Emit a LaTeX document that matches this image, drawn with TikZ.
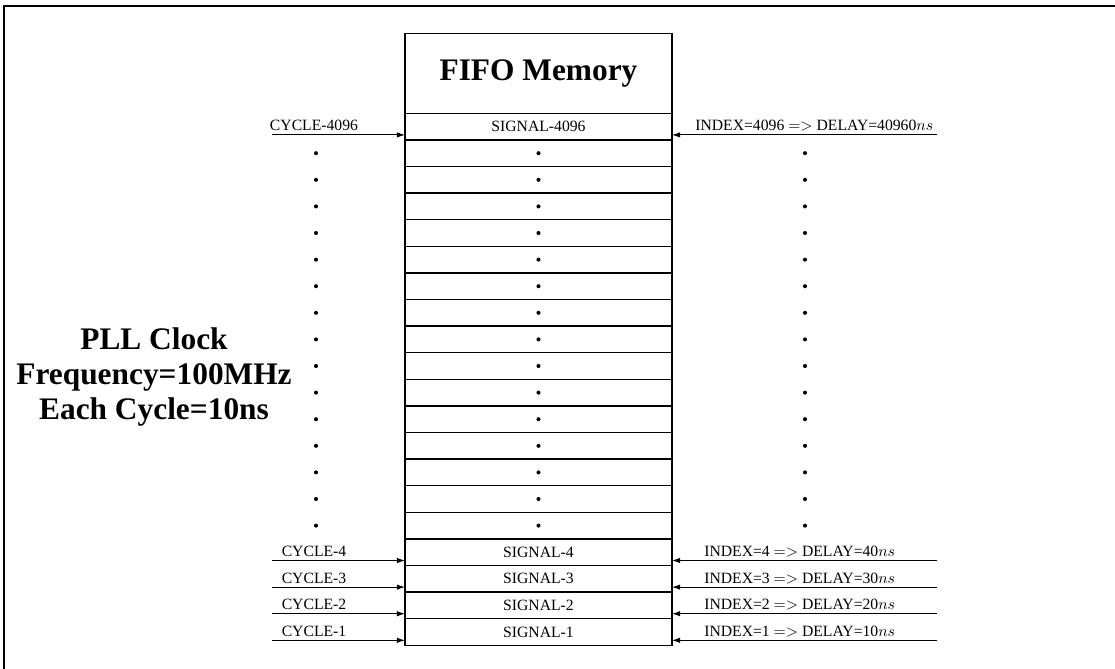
\documentclass[tikz,border=0pt]{standalone}
\usepackage{fontspec}
\setmainfont{Liberation Serif}
\usetikzlibrary{arrows.meta, positioning, calc}

\begin{document}
\begin{tikzpicture}[
    x=0.0224cm, y=-0.0224cm,
    cell/.style={draw, line width=0.9pt, minimum width=5.98cm, minimum height=0.596cm, inner sep=0pt, outer sep=0pt},
    titlebox/.style={cell, minimum height=1.792cm, font=\fontsize{20}{24}\selectfont\bfseries},
    arrow/.style={-{Latex[length=1.8mm, width=1.2mm]}, line width=0.6pt},
    lbl/.style={inner sep=0pt, anchor=base},
    big/.style={align=center, font=\fontsize{20}{22.5}\selectfont\bfseries}
]
\useasboundingbox (0,0) rectangle (1115,668);

% --- Frame ---
\draw[line width=0.9pt] (1120,6) -- (4,6) -- (4,675);

% --- FIFO memory column ---
\node[titlebox] (fifo) at (538.5, 73.3) {FIFO Memory};
\node[cell] (sig4096) at (538.5, 126.6) {SIGNAL-4096};
\foreach \i in {1,...,15}
  \node[cell] (row\i) at (538.5, {126.6+26.6*\i}) {};
\foreach \n/\i in {4/16, 3/17, 2/18, 1/19}
  \node[cell] (sig\n) at (538.5, {126.6+26.6*\i}) {SIGNAL-\n};

% --- Dots ---
\foreach \i in {1,...,15}
  \foreach \x in {316, 538.5, 805}
    \fill (\x, {126.6+26.6*\i}) circle[radius=1.3pt];

% --- Clock cycles (left) ---
\coordinate (cin4096) at (272, 134.9);
\draw[arrow] (cin4096) -- (cin4096 -| sig4096.west);
\node[lbl] (cyc4096) at (314, 130.9) {CYCLE-4096};
\foreach \n/\i in {4/16, 3/17, 2/18, 1/19} {
  \coordinate (cin\n) at (272, {134.9+26.6*\i});
  \draw[arrow] (cin\n) -- (cin\n -| sig\n.west);
  \node[lbl] (cyc\n) at (314, {130.9+26.6*\i}) {CYCLE-\n};
}

% --- Delays (right) ---
\coordinate (din4096) at (937, 134.9);
\draw[arrow] (din4096) -- (din4096 -| sig4096.east);
\node[lbl, anchor=base west] (del4096) at (695, 130.9) {INDEX=4096 $=>$ DELAY=40960$ns$};
\foreach \n/\i in {4/16, 3/17, 2/18, 1/19} {
  \coordinate (din\n) at (937, {134.9+26.6*\i});
  \draw[arrow] (din\n) -- (din\n -| sig\n.east);
  \node[lbl, anchor=base west] (del\n) at (704, {130.9+26.6*\i}) {INDEX=\n{} $=>$ DELAY=\n0$ns$};
}

% --- Clock description ---
\node[big] (pll) at (154, 377) {PLL Clock\\Frequency=100MHz\\Each Cycle=10ns};

\end{tikzpicture}
\end{document}
